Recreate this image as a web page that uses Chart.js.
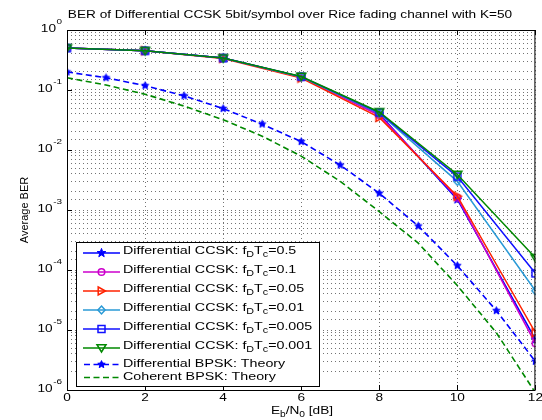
<!DOCTYPE html>
<html><head><meta charset="utf-8">
<script src="https://cdn.jsdelivr.net/npm/chart.js@4"></script>
<style>html,body{margin:0;padding:0;background:#fff}#wrap{width:542px;height:420px;position:relative}</style>
</head><body><div id="wrap"><canvas id="c" width="542" height="420"></canvas></div>
<script>
// ---- data ----
const ebn0 = [0, 2, 4, 6, 8, 10, 12];
const ccsk_05   = [0.50, 0.45, 0.34, 0.165, 0.040, 0.0015, 7.0e-6];
const ccsk_01   = [0.50, 0.45, 0.34, 0.163, 0.038, 0.0016, 6.0e-6];
const ccsk_005  = [0.50, 0.45, 0.335, 0.158, 0.035, 0.0017, 9.0e-6];
const ccsk_001  = [0.50, 0.45, 0.34, 0.165, 0.041, 0.0030, 4.5e-5];
const ccsk_0005 = [0.50, 0.45, 0.34, 0.167, 0.042, 0.0036, 8.8e-5];
const ccsk_0001 = [0.50, 0.45, 0.34, 0.168, 0.043, 0.0039, 1.6e-4];
const ebn0Theory = [0, 1, 2, 3, 4, 5, 6, 7, 8, 9, 10, 11, 12];
const dbpskTheory = [0.20, 0.16, 0.118, 0.080, 0.049, 0.027, 0.0138, 0.0056, 0.0019, 5.4e-4, 1.18e-4, 2.1e-5, 3.0e-6];
const cbpskTheory = [0.16, 0.121, 0.085, 0.054, 0.032, 0.017, 0.0079, 0.0030, 9.4e-4, 2.8e-4, 5.5e-5, 9.0e-6, 9.0e-7];
const xTickValues = [0, 2, 4, 6, 8, 10, 12];
const yTickExponents = [0, -1, -2, -3, -4, -5, -6];
const fdTcLabels = ['0.5', '0.1', '0.05', '0.01', '0.005', '0.001'];
const theoryLabels = ['Differential BPSK: Theory', 'Coherent BPSK: Theory'];
const titleText = 'BER of Differential CCSK 5bit/symbol over Rice fading channel with K=50';
const yTitle = 'Average BER';

// ---- styles ----
const FONT = "'Liberation Sans', Arial, Helvetica, sans-serif";
const SX = 1.24; // horizontal text stretch seen in the reference
const colors = ['#0000ff', '#cc00cc', '#ff2200', '#2a9ad6', '#1010ff', '#008800'];
const markerKinds = ['star', 'circle', 'triRight', 'diamond', 'square', 'triDown'];
const dbpskColor = '#0000ff', cbpskColor = '#008800';

function drawMarkerPath(ctx, kind, cx, cy) {
  ctx.beginPath();
  if (kind === 'star' || kind === 'starFill') {
    const R = kind === 'star' ? 4.6 : 3.9, r = kind === 'star' ? 1.9 : 1.8;
    for (let i = 0; i < 10; i++) {
      const a = -Math.PI / 2 + i * Math.PI / 5, rad = i % 2 ? r : R;
      ctx.lineTo(cx + rad * Math.cos(a), cy + rad * Math.sin(a));
    }
    ctx.closePath();
  } else if (kind === 'circle') {
    ctx.arc(cx, cy, 3.3, 0, Math.PI * 2);
  } else if (kind === 'triRight') {
    ctx.moveTo(cx - 3.3, cy - 4); ctx.lineTo(cx + 4, cy); ctx.lineTo(cx - 3.3, cy + 4); ctx.closePath();
  } else if (kind === 'diamond') {
    ctx.moveTo(cx, cy - 4); ctx.lineTo(cx + 3.6, cy); ctx.lineTo(cx, cy + 4); ctx.lineTo(cx - 3.6, cy); ctx.closePath();
  } else if (kind === 'square') {
    ctx.rect(cx - 3.5, cy - 3.5, 7, 7);
  } else if (kind === 'triDown') {
    ctx.moveTo(cx - 4.5, cy - 3.3); ctx.lineTo(cx + 4.5, cy - 3.3); ctx.lineTo(cx, cy + 4); ctx.closePath();
  }
}
function drawMarker(ctx, kind, cx, cy, color) {
  ctx.save();
  drawMarkerPath(ctx, kind, cx, cy);
  ctx.strokeStyle = color; ctx.lineWidth = 1.5;
  if (kind === 'star' || kind === 'starFill') { ctx.fillStyle = color; ctx.fill(); ctx.lineWidth = 1; }
  ctx.stroke();
  ctx.restore();
}
function markerCanvas(kind, color) {
  const cv = document.createElement('canvas');
  cv.width = 13; cv.height = 13;
  drawMarker(cv.getContext('2d'), kind, 6.5, 6.5, color);
  return cv;
}

const pts = (xs, ys) => xs.map((x, i) => ({ x: x, y: ys[i] }));
const ccskSeries = [ccsk_05, ccsk_01, ccsk_005, ccsk_001, ccsk_0005, ccsk_0001];
const datasets = ccskSeries.map((s, i) => ({
  label: 'Differential CCSK: fDTc=' + fdTcLabels[i],
  data: pts(ebn0, s),
  borderColor: colors[i], borderWidth: 1.5,
  pointStyle: markerCanvas(markerKinds[i], colors[i]),
  pointRadius: 5, pointHoverRadius: 5,
  tension: 0, fill: false, order: 10 - i
}));
datasets.push({
  label: theoryLabels[0], data: pts(ebn0Theory, dbpskTheory),
  borderColor: dbpskColor, borderWidth: 1.6, borderDash: [6, 3.5],
  pointStyle: markerCanvas('starFill', dbpskColor), pointRadius: 5, pointHoverRadius: 5,
  tension: 0, fill: false, order: 2
});
datasets.push({
  label: theoryLabels[1], data: pts(ebn0Theory, cbpskTheory),
  borderColor: cbpskColor, borderWidth: 1.6, borderDash: [6, 3.5],
  pointRadius: 0, pointHoverRadius: 0,
  tension: 0, fill: false, order: 1
});

// stretched text: returns drawn width
function sWidth(ctx, text, font) { ctx.font = font; return ctx.measureText(text).width * SX; }
function sText(ctx, text, x, y, font, align) {
  const w = sWidth(ctx, text, font);
  const x0 = align === 'center' ? x - w / 2 : align === 'right' ? x - w : x;
  ctx.save();
  ctx.font = font; ctx.textAlign = 'left'; ctx.textBaseline = 'middle';
  ctx.translate(x0, y); ctx.scale(SX, 1);
  ctx.fillText(text, 0, 0);
  ctx.restore();
  return w;
}
function drawParts(ctx, parts, x, y, align, size) {
  const fontFor = s => (s ? (size * 0.75).toFixed(2) + 'px ' : size + 'px ') + FONT;
  let total = 0;
  parts.forEach(p => { total += sWidth(ctx, p[0], fontFor(p[1])); });
  let cx = align === 'center' ? x - total / 2 : x;
  parts.forEach(p => {
    cx += sText(ctx, p[0], cx, y + (p[1] ? 4 : 0), fontFor(p[1]), 'left');
  });
}

const decorPlugin = {
  id: 'decor',
  afterDatasetsDraw(chart) {
    const ctx = chart.ctx, ca = chart.chartArea;
    const xs = chart.scales.x, ys = chart.scales.y;
    ctx.save();
    // axes box
    ctx.strokeStyle = '#000'; ctx.lineWidth = 1;
    ctx.strokeRect(ca.left + 0.5, ca.top + 0.5, ca.right - ca.left - 1, ca.bottom - ca.top);
    // inward major ticks
    ctx.beginPath();
    xTickValues.forEach(v => {
      const px = Math.round(xs.getPixelForValue(v)) + 0.5;
      ctx.moveTo(px, ca.bottom); ctx.lineTo(px, ca.bottom - 5);
      ctx.moveTo(px, ca.top); ctx.lineTo(px, ca.top + 5);
    });
    yTickExponents.forEach(e => {
      const py = Math.round(ys.getPixelForValue(Math.pow(10, e))) + 0.5;
      ctx.moveTo(ca.left, py); ctx.lineTo(ca.left + 5, py);
    });
    ctx.stroke();
    ctx.fillStyle = '#000';
    // x tick labels
    xTickValues.forEach(v => sText(ctx, String(v), xs.getPixelForValue(v), 398, '11px ' + FONT, 'center'));
    // y tick labels 10^e
    yTickExponents.forEach(e => {
      const py = ys.getPixelForValue(Math.pow(10, e));
      const expStr = e === 0 ? '0' : '-' + Math.abs(e);
      const right = 62;
      const we = sText(ctx, expStr, right, py - 8.5, '8px ' + FONT, 'right');
      sText(ctx, '10', right - we - 0.5, py - 1, '11px ' + FONT, 'right');
    });
    // title
    sText(ctx, titleText, 290, 15, '11px ' + FONT, 'center');
    // x axis title E_b/N_0 [dB]
    drawParts(ctx, [['E', 0], ['b', 1], ['/N', 0], ['0', 1], [' [dB]', 0]], 302, 411, 'center', 11);
    // y axis title (vertical: not stretched)
    ctx.save();
    ctx.translate(25, 210); ctx.rotate(-Math.PI / 2);
    ctx.font = '11px ' + FONT; ctx.textAlign = 'center'; ctx.textBaseline = 'middle';
    ctx.fillText(yTitle, 0, 0);
    ctx.restore();
    // legend
    const L = 76, T = 242, R = 319, B = 386;
    ctx.fillStyle = '#fff'; ctx.fillRect(L, T, R - L, B - T);
    ctx.strokeStyle = '#000'; ctx.lineWidth = 1;
    ctx.strokeRect(L + 0.5, T + 0.5, R - L, B - T);
    const rowY = [253, 272, 291, 310, 329, 348, 364.5, 377.5];
    for (let i = 0; i < 6; i++) {
      const y = rowY[i];
      ctx.strokeStyle = colors[i]; ctx.lineWidth = 1.5; ctx.setLineDash([]);
      ctx.beginPath(); ctx.moveTo(83, y); ctx.lineTo(120, y); ctx.stroke();
      drawMarker(ctx, markerKinds[i], 101.5, y, colors[i]);
      ctx.fillStyle = '#000';
      drawParts(ctx, [['Differential CCSK: f', 0], ['D', 1], ['T', 0], ['c', 1], ['=' + fdTcLabels[i], 0]], 123, y - 2, 'left', 11.5);
    }
    [[dbpskColor, true], [cbpskColor, false]].forEach((d, k) => {
      const y = rowY[6 + k];
      ctx.strokeStyle = d[0]; ctx.lineWidth = 1.6; ctx.setLineDash([6, 3.5]);
      ctx.beginPath(); ctx.moveTo(84, y); ctx.lineTo(120, y); ctx.stroke();
      ctx.setLineDash([]);
      if (d[1]) drawMarker(ctx, 'starFill', 101.5, y, d[0]);
      ctx.fillStyle = '#000';
      drawParts(ctx, [[theoryLabels[k], 0]], 123, y - 1, 'left', 11.5);
    });
    ctx.restore();
  }
};

new Chart(document.getElementById('c'), {
  type: 'line',
  data: { datasets: datasets },
  options: {
    responsive: false, animation: false, devicePixelRatio: 1,
    layout: { padding: { top: 30, right: 2, left: 0, bottom: 0 } },
    plugins: { legend: { display: false }, title: { display: false }, tooltip: { enabled: false } },
    scales: {
      x: {
        type: 'linear', min: 0, max: 12,
        ticks: { stepSize: 2, callback: () => '', autoSkip: false },
        grid: { color: 'rgba(0,0,0,0.55)', lineWidth: 1, drawTicks: false, tickLength: 0 },
        border: { display: false, dash: [1, 3] },
        afterFit: s => { s.height = 30; }
      },
      y: {
        type: 'logarithmic', min: 1e-6, max: 1,
        ticks: { callback: () => '', autoSkip: false },
        grid: { color: 'rgba(0,0,0,0.55)', lineWidth: 1, drawTicks: false, tickLength: 0 },
        border: { display: false, dash: [1, 3] },
        afterFit: s => { s.width = 67; }
      }
    }
  },
  plugins: [decorPlugin]
});
</script>
</body></html>
